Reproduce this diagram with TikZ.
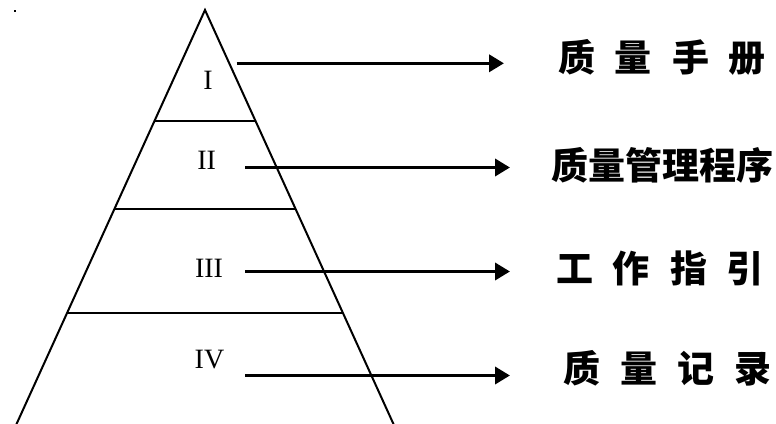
\documentclass[tikz,border=0pt]{standalone}
\usepackage{fontspec}
\setmainfont{Liberation Serif}
\newfontfamily\cjk{Noto Sans CJK SC}
\usetikzlibrary{arrows.meta}

\newcommand{\gapsp}{\hspace{20pt}}

\tikzset{
  edge/.style={line width=2pt, line join=miter},
  level/.style={line width=2pt},
  pointer/.style={line width=3.6pt, -{Triangle[length=15pt,width=17pt]}},
  numeral/.style={inner sep=0pt, font=\fontsize{28}{30}\selectfont},
  doc/.style={inner sep=0pt, font=\cjk\bfseries\fontsize{37}{40}\selectfont}
}

\begin{document}
\begin{tikzpicture}[x=1pt, y=-1pt]
  \path[use as bounding box, clip] (0,0) rectangle (776,423);

  % stray mark at the corner
  \fill (14.2,10.2) rectangle (15.8,11.8);

  % pyramid outline, running past the lower edge
  \coordinate (apex) at (205,10);
  \coordinate (baseL) at (13.8,430);
  \coordinate (baseR) at (396.2,430);
  \draw[edge] (baseL) -- (apex) -- (baseR);

  % tier boundaries
  \coordinate (t1L) at (154.7,120.5);  \coordinate (t1R) at (255.3,120.5);
  \coordinate (t2L) at (114.4,209);    \coordinate (t2R) at (295.6,209);
  \coordinate (t3L) at (67.3,312.5);   \coordinate (t3R) at (342.7,312.5);
  \draw[level] (t1L) -- (t1R);
  \draw[level] (t2L) -- (t2R);
  \draw[level] (t3L) -- (t3R);

  % tier numerals
  \node[numeral] (n1) at (208,80.5)  {I};
  \node[numeral] (n2) at (206.7,160.5) {II};
  \node[numeral] (n3) at (209,268)   {III};
  \node[numeral] (n4) at (209.5,360) {IV};

  % document levels
  \node[doc] (d1) at (662,57)   {质\gapsp 量\gapsp 手\gapsp 册};
  \node[doc] (d2) at (662,165)  {质量管理程序};
  \node[doc] (d3) at (660,268)  {工\gapsp 作\gapsp 指\gapsp 引};
  \node[doc] (d4) at (667.5,368) {质\gapsp 量\gapsp 记\gapsp 录};

  % arrows from the tiers to their documents
  \coordinate (a1s) at (236.7,63.3); \coordinate (a1e) at (504,63.3);
  \coordinate (a2s) at (245,167.5);  \coordinate (a2e) at (510,167.5);
  \coordinate (a3s) at (245,271.5);  \coordinate (a3e) at (510,271.5);
  \coordinate (a4s) at (245,375.5);  \coordinate (a4e) at (510,375.5);
  \draw[pointer] (a1s) -- (a1e);
  \draw[pointer] (a2s) -- (a2e);
  \draw[pointer] (a3s) -- (a3e);
  \draw[pointer] (a4s) -- (a4e);
\end{tikzpicture}
\end{document}
